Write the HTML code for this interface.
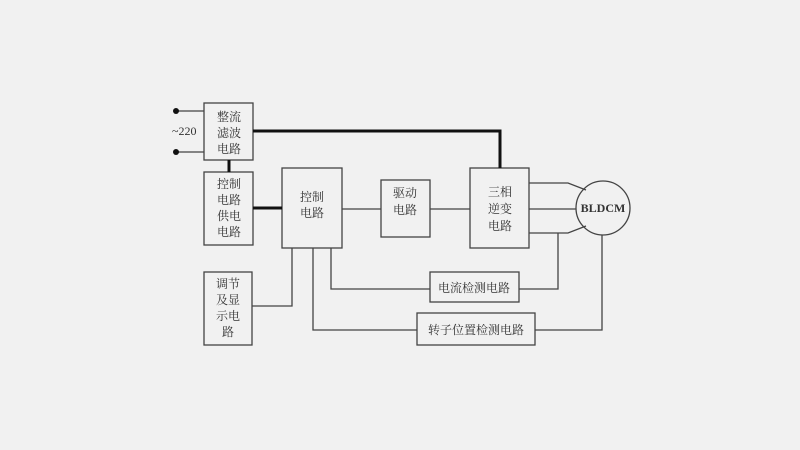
<!DOCTYPE html>
<html><head><meta charset="utf-8"><style>
html,body{margin:0;padding:0;background:#f1f1f1;}
svg{display:block}
text{font-family:"Liberation Serif","Noto Serif CJK SC","Noto Sans CJK SC",serif;fill:#333;font-size:12px}
</style></head><body>
<svg width="800" height="450" viewBox="0 0 800 450">
<g fill="none" stroke="#444" stroke-width="1.3">
<rect x="204" y="103" width="49" height="57"/>
<rect x="204" y="172" width="49" height="73"/>
<rect x="282" y="168" width="60" height="80"/>
<rect x="204" y="272" width="48" height="73"/>
<rect x="381" y="180" width="49" height="57"/>
<rect x="470" y="168" width="59" height="80"/>
<rect x="430" y="272" width="89" height="30"/>
<rect x="417" y="313" width="118" height="32"/>
<circle cx="603" cy="208" r="27"/>
<polyline points="176,111 204,111"/>
<polyline points="176,152 204,152"/>
<polyline points="342,209 381,209"/>
<polyline points="430,209 470,209"/>
<polyline points="529,183 568,183 586,190"/>
<polyline points="529,209 576,209"/>
<polyline points="529,233 568,233 586,226"/>
<polyline points="519,289 558,289 558,233"/>
<polyline points="535,330 602,330 602,235"/>
<polyline points="252,306 292,306 292,248"/>
<polyline points="331,248 331,289 430,289"/>
<polyline points="313,248 313,330 417,330"/>
</g>
<g fill="none" stroke="#111" stroke-width="3">
<polyline points="253,131 500,131 500,168"/>
<polyline points="229,160 229,172"/>
<polyline points="253,208 282,208"/>
</g>
<circle cx="176" cy="111" r="3" fill="#111"/>
<circle cx="176" cy="152" r="3" fill="#111"/>
<text x="172" y="135" font-size="11">~220</text>
<g text-anchor="middle">
<text x="229" y="121">整流</text><text x="229" y="137">滤波</text><text x="229" y="153">电路</text>
<text x="229" y="188">控制</text><text x="229" y="204">电路</text><text x="229" y="220">供电</text><text x="229" y="236">电路</text>
<text x="312" y="201">控制</text><text x="312" y="217">电路</text>
<text x="228" y="288">调节</text><text x="228" y="304">及显</text><text x="228" y="320">示电</text><text x="228" y="336">路</text>
<text x="405" y="197">驱动</text><text x="405" y="214">电路</text>
<text x="500" y="196">三相</text><text x="500" y="213">逆变</text><text x="500" y="230">电路</text>
<text x="474" y="292">电流检测电路</text>
<text x="476" y="334">转子位置检测电路</text>
<text x="603" y="212" font-size="11" font-weight="bold">BLDCM</text>
</g>
</svg>
</body></html>
